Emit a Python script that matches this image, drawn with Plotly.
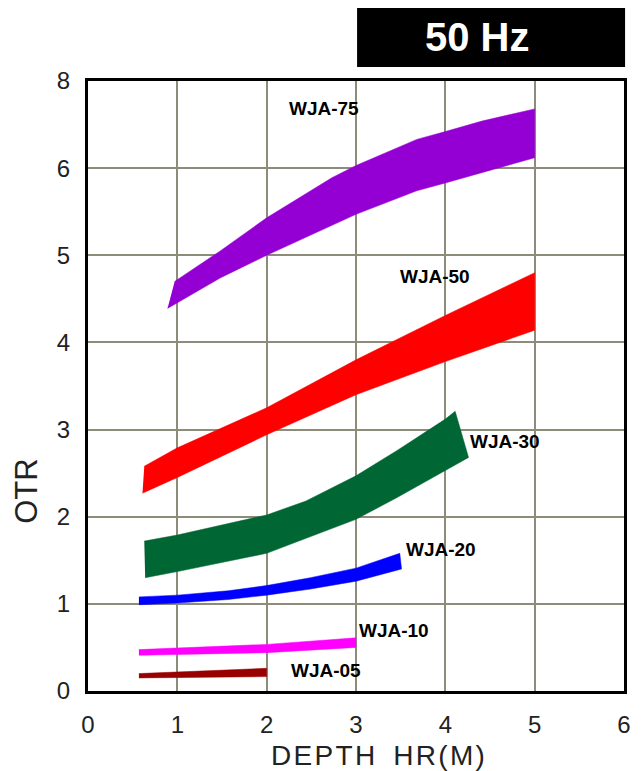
import plotly.graph_objects as go

# ---- data (x = DEPTH HR(M), y = OTR) ----
models = ["WJA-75", "WJA-50", "WJA-30", "WJA-20", "WJA-10", "WJA-05"]

wja75_upper_x = [0.97, 1.48, 2.0, 2.73, 3.0, 3.68, 4.0, 4.41, 5.0]
wja75_upper_y = [4.70, 5.05, 5.43, 5.89, 6.03, 6.33, 6.42, 6.54, 6.68]
wja75_lower_x = [0.89, 1.48, 2.0, 3.0, 3.68, 4.0, 5.0]
wja75_lower_y = [4.39, 4.74, 5.00, 5.47, 5.74, 5.83, 6.12]

wja50_upper_x = [0.63, 1.0, 2.0, 3.0, 4.0, 5.0]
wja50_upper_y = [2.58, 2.79, 3.25, 3.80, 4.31, 4.80]
wja50_lower_x = [0.61, 1.0, 2.0, 3.0, 4.0, 5.0]
wja50_lower_y = [2.27, 2.45, 2.94, 3.40, 3.78, 4.14]

wja30_upper_x = [0.63, 1.0, 2.0, 2.44, 3.0, 3.46, 4.0, 4.11]
wja30_upper_y = [1.72, 1.79, 2.02, 2.18, 2.47, 2.76, 3.12, 3.21]
wja30_lower_x = [0.64, 1.0, 2.0, 3.0, 3.46, 4.0, 4.26]
wja30_lower_y = [1.30, 1.37, 1.58, 1.97, 2.22, 2.53, 2.68]

wja20_upper_x = [0.57, 1.0, 1.57, 2.0, 2.49, 3.0, 3.49]
wja20_upper_y = [1.08, 1.10, 1.15, 1.21, 1.30, 1.41, 1.58]
wja20_lower_x = [0.57, 1.0, 1.57, 2.0, 2.49, 3.0, 3.51]
wja20_lower_y = [0.99, 1.01, 1.05, 1.10, 1.17, 1.26, 1.40]

wja10_upper_x = [0.57, 2.0, 3.0]
wja10_upper_y = [0.475, 0.535, 0.61]
wja10_lower_x = [0.57, 2.0, 3.0]
wja10_lower_y = [0.41, 0.44, 0.50]

wja05_upper_x = [0.57, 2.0]
wja05_upper_y = [0.20, 0.26]
wja05_lower_x = [0.57, 2.0]
wja05_lower_y = [0.15, 0.165]

label_x = [2.64, 3.88, 4.67, 3.95, 3.43, 2.66]
label_y = [6.68, 4.76, 2.86, 1.62, 0.69, 0.23]

x_tickvals = [0, 1, 2, 3, 4, 5, 6]
x_ticktext = ["0", "1", "2", "3", "4", "5", "6"]
y_tickvals = [0, 1, 2, 3, 4, 5, 6, 7]
y_ticktext = ["0", "1", "2", "3", "4", "5", "6", "8"]

colors = ["#9400D3", "#FF0000", "#006633", "#0000FF", "#FF00FF", "#990000"]

bands = [
    (wja75_upper_x, wja75_upper_y, wja75_lower_x, wja75_lower_y),
    (wja50_upper_x, wja50_upper_y, wja50_lower_x, wja50_lower_y),
    (wja30_upper_x, wja30_upper_y, wja30_lower_x, wja30_lower_y),
    (wja20_upper_x, wja20_upper_y, wja20_lower_x, wja20_lower_y),
    (wja10_upper_x, wja10_upper_y, wja10_lower_x, wja10_lower_y),
    (wja05_upper_x, wja05_upper_y, wja05_lower_x, wja05_lower_y),
]

fig = go.Figure()
for name, color, (ux, uy, lx, ly) in zip(models, colors, bands):
    fig.add_trace(go.Scatter(
        x=list(ux) + list(lx)[::-1],
        y=list(uy) + list(ly)[::-1],
        mode="lines",
        fill="toself",
        fillcolor=color,
        line=dict(color=color, width=0.5),
        name=name,
        hoverinfo="name",
        showlegend=False,
    ))

for name, lx_, ly_ in zip(models, label_x, label_y):
    fig.add_annotation(
        x=lx_, y=ly_, xref="x", yref="y", text="<b>%s</b>" % name,
        showarrow=False, font=dict(family="Liberation Sans, Arial", size=19, color="black"),
    )

grid_color = "#8c8c78"
font_main = "Liberation Sans, Arial, sans-serif"

fig.update_xaxes(
    range=[0, 6], tickvals=x_tickvals, ticktext=x_ticktext,
    showgrid=True, gridcolor=grid_color, gridwidth=2,
    showline=True, linecolor="black", linewidth=3, mirror=True,
    zeroline=False, ticks="", ticklabelstandoff=10,
    tickfont=dict(family=font_main, size=24, color="#222"),
)
fig.update_yaxes(
    range=[0, 7], tickvals=y_tickvals, ticktext=y_ticktext,
    showgrid=True, gridcolor=grid_color, gridwidth=2,
    showline=True, linecolor="black", linewidth=3, mirror=True,
    zeroline=False, ticks="", ticklabelstandoff=10,
    tickfont=dict(family=font_main, size=24, color="#222"),
)

hs = "\u200a"  # hair space, to widen the letter spacing like the reference
x_title = hs.join("DEPTH") + hs + "  " + hs.join("HR(M)")

fig.add_annotation(
    xref="paper", yref="paper", x=0.541, y=-0.106, xanchor="center", yanchor="middle",
    text=x_title, showarrow=False,
    font=dict(family=font_main, size=28, color="#222"),
)
fig.add_annotation(
    xref="paper", yref="paper", x=-0.114, y=0.328, xanchor="center", yanchor="middle",
    text="OTR", textangle=-90, showarrow=False,
    font=dict(family=font_main, size=31, color="#222"),
)

# header box
fig.add_shape(
    type="rect", xref="paper", yref="paper", x0=0.502, x1=1.002, y0=1.023, y1=1.1197,
    fillcolor="black", line=dict(width=0), layer="above",
)
fig.add_annotation(
    xref="paper", yref="paper", x=0.726, y=1.072, xanchor="center", yanchor="middle",
    text="<b>50 Hz</b>", showarrow=False,
    font=dict(family=font_main, size=40, color="white"),
)

fig.update_layout(
    width=642, height=771,
    margin=dict(l=88, r=18, t=81, b=80),
    paper_bgcolor="white", plot_bgcolor="white",
    showlegend=False,
)

fig.write_html(
    "out.html",
    config={"displayModeBar": False},
    post_script="document.body.style.margin='0';document.body.style.overflow='hidden';",
)
